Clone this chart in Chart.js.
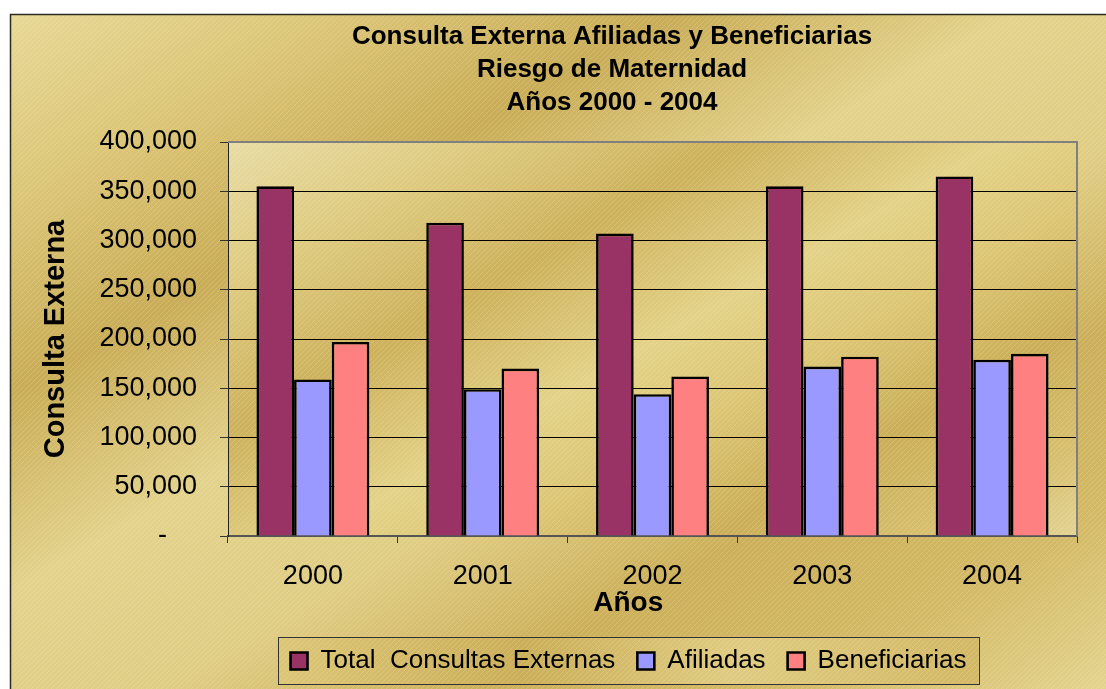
<!DOCTYPE html>
<html><head><meta charset="utf-8">
<script src="https://cdn.jsdelivr.net/npm/chart.js@4"></script>
<style>html,body{margin:0;padding:0;background:#fff}canvas{display:block}</style>
</head><body>
<canvas id="c" width="1106" height="689"></canvas>
<script>
const categories = ['2000', '2001', '2002', '2003', '2004'];
const totalConsultas = [355000, 318000, 307000, 355000, 365000];
const afiliadas = [159000, 149000, 144000, 172000, 179000];
const beneficiarias = [197000, 170000, 162000, 182000, 185000];
const seriesNames = ['Total  Consultas Externas', 'Afiliadas', 'Beneficiarias'];
const titleLines = ['Consulta Externa Afiliadas y Beneficiarias', 'Riesgo de Maternidad', 'Años 2000 - 2004'];
const xTitle = 'Años';
const yTitle = 'Consulta Externa';

Chart.defaults.font.family = "'Liberation Sans', Arial, sans-serif";

function stripePattern(ctx) {
  const p = document.createElement('canvas');
  p.width = 5; p.height = 5;
  const c = p.getContext('2d');
  c.strokeStyle = 'rgba(255,255,255,0.16)';
  c.lineWidth = 1;
  c.beginPath(); c.moveTo(-1, 6); c.lineTo(6, -1); c.stroke();
  return ctx.createPattern(p, 'repeat');
}

function goldGrad(ctx, x0, y0, L, stops) {
  const g = ctx.createLinearGradient(x0, y0, x0 + 0.5 * L, y0 + 0.87 * L);
  stops.forEach(s => g.addColorStop(s[0], s[1]));
  return g;
}

const decor = {
  id: 'decor',
  afterLayout(chart) {
    const tb = chart.titleBlock;
    const dx = 612 - (tb.left + tb.right) / 2;
    tb.left += dx; tb.right += dx;
    const lg = chart.legend;
    const dx2 = 628.5 - (lg.left + lg.right) / 2;
    lg.left += dx2; lg.right += dx2;
    const xs = chart.scales.x;
    if (!xs._patchedTitle) {
      const orig = xs.drawTitle;
      xs.drawTitle = function () {
        const l = this.left, r = this.right;
        const sh = 628.3 - (l + r) / 2;
        this.left = l + sh; this.right = r + sh;
        orig.call(this);
        this.left = l; this.right = r;
      };
      xs._patchedTitle = true;
    }
  },
  beforeDraw(chart) {
    const ctx = chart.ctx;
    const W = chart.width, H = chart.height;
    const pat = stripePattern(ctx);
    ctx.save();
    ctx.fillStyle = '#fff';
    ctx.fillRect(0, 0, W, H);
    ctx.fillStyle = goldGrad(ctx, 10, 14, 1135, [
      [0, '#E7D896'], [0.14, '#DCC677'], [0.29, '#C9AC56'], [0.44, '#E3D28B'],
      [0.58, '#E0CD84'], [0.72, '#CCAF59'], [0.86, '#D4BA66'], [1, '#E4D590']]);
    ctx.fillRect(10, 14, W - 10, H - 14);
    ctx.fillStyle = pat;
    ctx.fillRect(10, 14, W - 10, H - 14);
    ctx.strokeStyle = '#2b2b1e';
    ctx.lineWidth = 1.5;
    ctx.beginPath();
    ctx.moveTo(10.5, H + 2); ctx.lineTo(10.5, 14.5); ctx.lineTo(W + 2, 14.5);
    ctx.stroke();
    const a = chart.chartArea;
    ctx.fillStyle = goldGrad(ctx, a.left, a.top, 767, [
      [0, '#E8DCA4'], [0.16, '#DECB80'], [0.33, '#CDB15B'], [0.5, '#E3D287'],
      [0.62, '#DCC674'], [0.76, '#CBAE57'], [0.9, '#D8C070'], [1, '#E3D596']]);
    ctx.fillRect(a.left, a.top, a.right - a.left, a.bottom - a.top);
    ctx.fillStyle = pat;
    ctx.fillRect(a.left, a.top, a.right - a.left, a.bottom - a.top);
    const hb = chart.legend.legendHitBoxes;
    if (hb && hb.length) {
      const last = hb[hb.length - 1];
      const fl = hb[0].left - 13, fr = last.left + last.width + 12;
      const ft = hb[0].top - 11, fb = hb[0].top + hb[0].height + 10;
      const lgGrad = ctx.createLinearGradient(fl, ft, fr, fb);
      lgGrad.addColorStop(0, '#DCC676'); lgGrad.addColorStop(0.35, '#CBAE58');
      lgGrad.addColorStop(0.65, '#DFCB80'); lgGrad.addColorStop(1, '#D2B864');
      ctx.fillStyle = lgGrad;
      ctx.fillRect(fl, ft, fr - fl, fb - ft);
      ctx.fillStyle = pat;
      ctx.fillRect(fl, ft, fr - fl, fb - ft);
      ctx.strokeStyle = '#333';
      ctx.lineWidth = 1;
      ctx.strokeRect(Math.round(fl) + 0.5, Math.round(ft) + 0.5, Math.round(fr - fl), Math.round(fb - ft));
    }
    ctx.restore();
  },
  beforeDatasetsDraw(chart) {
    const ctx = chart.ctx, a = chart.chartArea;
    ctx.save();
    ctx.strokeStyle = '#808080';
    ctx.lineWidth = 2;
    ctx.beginPath();
    ctx.moveTo(a.left, a.top); ctx.lineTo(a.right, a.top); ctx.lineTo(a.right, a.bottom);
    ctx.stroke();
    ctx.restore();
  }
};

new Chart(document.getElementById('c'), {
  type: 'bar',
  data: {
    labels: categories,
    datasets: [
      { label: seriesNames[0], data: totalConsultas, backgroundColor: '#993366', borderColor: '#000', borderWidth: 2.6 },
      { label: seriesNames[1], data: afiliadas, backgroundColor: '#9999FF', borderColor: '#000', borderWidth: 2.6 },
      { label: seriesNames[2], data: beneficiarias, backgroundColor: '#FF8080', borderColor: '#000', borderWidth: 2.6 }
    ]
  },
  options: {
    responsive: false,
    devicePixelRatio: 1,
    animation: false,
    layout: { padding: { top: 14, left: 22, right: 29, bottom: 5 } },
    datasets: { bar: { categoryPercentage: 0.665, barPercentage: 1 } },
    plugins: {
      title: { display: true, text: titleLines, color: '#000',
        font: { size: 26, weight: 'bold', lineHeight: 33 / 26 }, padding: { top: 6, bottom: 23 } },
      legend: { position: 'bottom',
        labels: { boxWidth: 17, boxHeight: 17, padding: 22, color: '#000', font: { size: 26 } } },
      tooltip: { enabled: false }
    },
    scales: {
      x: {
        grid: { display: true, drawOnChartArea: false, offset: true, tickLength: 7, tickColor: '#333', lineWidth: 1 },
        border: { display: true, color: '#555', width: 2 },
        ticks: { color: '#000', font: { size: 27 }, padding: 17 },
        title: { display: true, text: xTitle, color: '#000', font: { size: 28, weight: 'bold' }, padding: { top: 0, bottom: 6 } },
        afterFit(s) { s.height = 90; }
      },
      y: {
        min: 0, max: 400000,
        ticks: { stepSize: 50000, color: '#000', font: { size: 27 }, padding: 23,
          callback: v => v === 0 ? '-\u2007\u2007' : Number(v).toLocaleString('en-US') },
        grid: { color: '#000', lineWidth: 1, tickLength: 8, tickColor: '#333' },
        border: { display: true, color: '#222', width: 1 },
        title: { display: true, text: yTitle, color: '#000', font: { size: 29, weight: 'bold' }, padding: { top: 17, bottom: 0 } },
        afterFit(s) { s.width = 206; }
      }
    }
  },
  plugins: [decor]
});
</script>
</body></html>
